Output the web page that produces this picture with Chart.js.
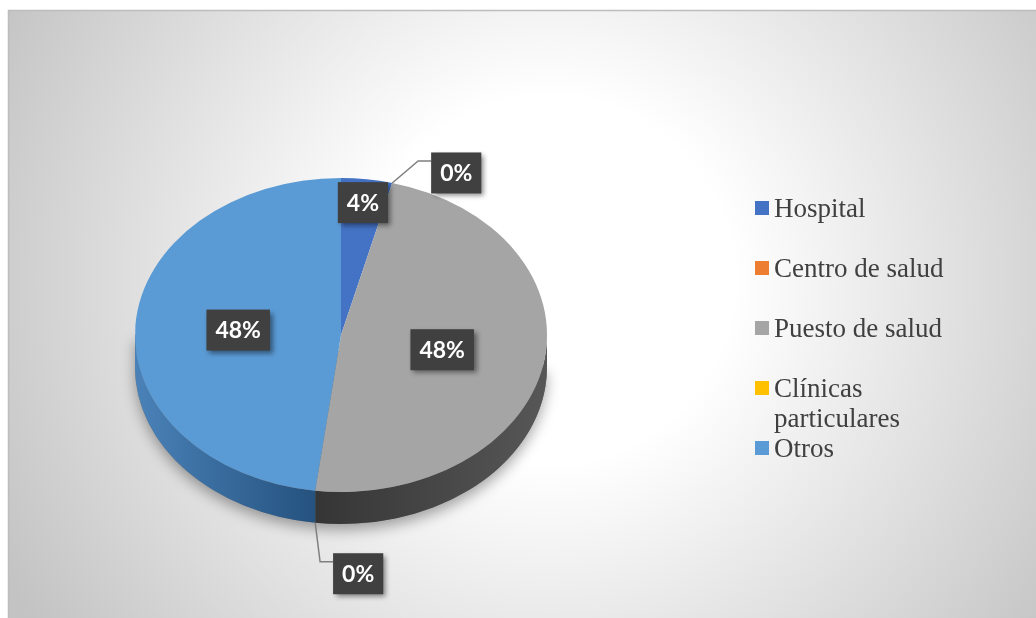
<!DOCTYPE html>
<html>
<head>
<meta charset="utf-8">
<script src="https://cdn.jsdelivr.net/npm/chart.js@4.4.0/dist/chart.umd.min.js"></script>
<style>
  html, body { margin: 0; padding: 0; background: #fff; }
  #wrap { position: relative; width: 1036px; height: 618px; }
</style>
</head>
<body>
<div id="wrap"><canvas id="pieChart"></canvas></div>
<script>
// categories and values
const labels = ['Hospital', 'Centro de salud', 'Puesto de salud', 'Clínicas particulares', 'Otros'];
const values = [4, 0, 48, 0, 48];
const colors = ['#4472C4', '#ED7D31', '#A5A5A5', '#FFC000', '#5B9BD5'];

// side wall shades (light end, dark end)
const sideShades = [
    ['#3a5d9e', '#2c4a80'],
    ['#c0642a', '#9c4f1f'],
    ['#575757', '#353535'],
    ['#cc9a00', '#a37a00'],
    ['#4a82b8', '#25527f']
];

const TILT = 0.762;   // vertical squash of the top face
const DEPTH = 32;     // thickness of the pie in px
const LABEL_FONT = 'bold 23px Lato';

const total = values.reduce((a, b) => a + b, 0);

const backdrop = {
    id: 'backdrop',
    beforeDraw(chart) {
        const ctx = chart.ctx;
        const w = chart.width, h = chart.height;
        ctx.save();
        ctx.fillStyle = '#fff';
        ctx.fillRect(0, 0, w, h);
        const g = ctx.createRadialGradient(550, 280, 60, 550, 280, 620);
        g.addColorStop(0, '#ffffff');
        g.addColorStop(0.22, '#ffffff');
        g.addColorStop(1, '#c3c3c3');
        ctx.fillStyle = g;
        ctx.fillRect(8, 10, w - 8, h - 10);
        ctx.strokeStyle = '#bdbdbd';
        ctx.lineWidth = 1.5;
        ctx.beginPath();
        ctx.moveTo(8.5, h);
        ctx.lineTo(8.5, 10.5);
        ctx.lineTo(w, 10.5);
        ctx.stroke();
        ctx.restore();
    }
};

// draws the wall under the front half and squashes the top face
const pie3d = {
    id: 'pie3d',
    beforeDatasetsDraw(chart) {
        const ctx = chart.ctx;
        const arcs = chart.getDatasetMeta(0).data;
        const cx = arcs[0].x, cy = arcs[0].y, r = arcs[0].outerRadius;
        const ry = r * TILT;

        ctx.save();
        // soft shadow below the pie
        ctx.save();
        ctx.shadowColor = 'rgba(0,0,0,0.35)';
        ctx.shadowBlur = 14;
        ctx.shadowOffsetY = 6;
        ctx.fillStyle = '#777';
        ctx.beginPath();
        ctx.ellipse(cx, cy + DEPTH, r, ry, 0, 0, Math.PI);
        ctx.lineTo(cx - r, cy);
        ctx.closePath();
        ctx.fill();
        ctx.restore();

        arcs.forEach((arc, i) => {
            const lo = Math.max(arc.startAngle, 0);
            const hi = Math.min(arc.endAngle, Math.PI);
            if (hi <= lo) return;
            const x1 = cx + r * Math.cos(hi), x2 = cx + r * Math.cos(lo);
            const g = ctx.createLinearGradient(x1, 0, x2, 0);
            const shade = sideShades[i];
            if (i === 2) {
                g.addColorStop(0, shade[1]);
                g.addColorStop(1, shade[0]);
            } else {
                g.addColorStop(0, shade[0]);
                g.addColorStop(1, shade[1]);
            }
            ctx.fillStyle = g;
            ctx.beginPath();
            ctx.ellipse(cx, cy, r, ry, 0, lo, hi);
            ctx.lineTo(cx + r * Math.cos(hi), cy + ry * Math.sin(hi) + DEPTH);
            ctx.ellipse(cx, cy + DEPTH, r, ry, 0, hi, lo, true);
            ctx.closePath();
            ctx.fill();
        });
        ctx.restore();

        ctx.save();
        ctx.translate(cx, cy);
        ctx.scale(1, TILT);
        ctx.translate(-cx, -cy);
    },
    afterDatasetsDraw(chart) {
        chart.ctx.restore();
    }
};

function labelBox(ctx, text, x, y) {
    ctx.font = LABEL_FONT;
    const w = ctx.measureText(text).width + 18;
    const h = 41;
    ctx.save();
    ctx.shadowColor = 'rgba(0,0,0,0.45)';
    ctx.shadowBlur = 5;
    ctx.shadowOffsetX = 3;
    ctx.shadowOffsetY = 3;
    ctx.fillStyle = '#404040';
    ctx.fillRect(x - w / 2, y - h / 2, w, h);
    ctx.restore();
    ctx.fillStyle = '#ffffff';
    ctx.textAlign = 'center';
    ctx.textBaseline = 'middle';
    ctx.fillText(text, x, y + 1);
    return w;
}

const valueLabels = {
    id: 'valueLabels',
    afterDatasetsDraw(chart, args, opts) {
        const ctx = chart.ctx;
        const arcs = chart.getDatasetMeta(0).data;
        const cx = arcs[0].x, cy = arcs[0].y, r = arcs[0].outerRadius;
        const ry = r * TILT;
        ctx.save();
        arcs.forEach((arc, i) => {
            const text = Math.round(values[i] / total * 100) + '%';
            const mid = (arc.startAngle + arc.endAngle) / 2;
            const call = opts.callouts[i];
            if (call) {
                // leader line from the rim to a box outside the pie
                const front = mid > 0 && mid < Math.PI;
                const ax = cx + r * Math.cos(mid);
                const ay = cy + ry * Math.sin(mid) + (front ? DEPTH : 0);
                const bx = ax + call.dx, by = ay + call.dy;
                ctx.font = LABEL_FONT;
                const bw = ctx.measureText(text).width + 18;
                const left = bx - bw / 2;
                ctx.strokeStyle = '#7f7f7f';
                ctx.lineWidth = 1.5;
                ctx.beginPath();
                ctx.moveTo(ax, ay);
                ctx.lineTo(left - 13, by - 12);
                ctx.lineTo(left, by - 12);
                ctx.stroke();
                labelBox(ctx, text, bx, by);
            } else {
                const f = opts.radius[i] || 0.5;
                labelBox(ctx, text, cx + f * r * Math.cos(mid), cy + f * ry * Math.sin(mid));
            }
        });
        ctx.restore();
    }
};

// legend on the right, long names wrap onto a second line
const sideLegend = {
    id: 'sideLegend',
    afterDraw(chart, args, opts) {
        const ctx = chart.ctx;
        ctx.save();
        ctx.font = '27px "Liberation Serif"';
        ctx.textAlign = 'left';
        ctx.textBaseline = 'alphabetic';
        chart.data.labels.forEach((name, i) => {
            const y = opts.top + i * opts.step;
            ctx.fillStyle = chart.data.datasets[0].backgroundColor[i];
            ctx.fillRect(opts.x, y - 7, 14, 14);
            // word wrap
            const lines = [];
            let line = '';
            name.split(' ').forEach(word => {
                const test = line ? line + ' ' + word : word;
                if (line && ctx.measureText(test).width > opts.maxWidth) {
                    lines.push(line);
                    line = word;
                } else {
                    line = test;
                }
            });
            lines.push(line);
            ctx.fillStyle = '#404040';
            lines.forEach((l, k) => ctx.fillText(l, opts.x + 19, y + 9 + k * 30));
        });
        ctx.restore();
    }
};

new Chart(document.getElementById('pieChart'), {
    type: 'pie',
    data: {
        labels: labels,
        datasets: [{
            data: values,
            backgroundColor: colors,
            borderWidth: 0,
            hoverOffset: 0
        }]
    },
    options: {
        responsive: true,
        maintainAspectRatio: false,
        animation: false,
        layout: {
            padding: {left: 135, right: 489, top: 129, bottom: 77}
        },
        plugins: {
            legend: {display: false},
            tooltip: {enabled: false},
            valueLabels: {
                radius: {0: 0.85},
                callouts: {1: {dx: 64, dy: -10}, 3: {dx: 43, dy: 51}}
            },
            sideLegend: {x: 755, top: 208, step: 60, maxWidth: 175}
        }
    },
    plugins: [backdrop, pie3d, valueLabels, sideLegend]
});
</script>
</body>
</html>
